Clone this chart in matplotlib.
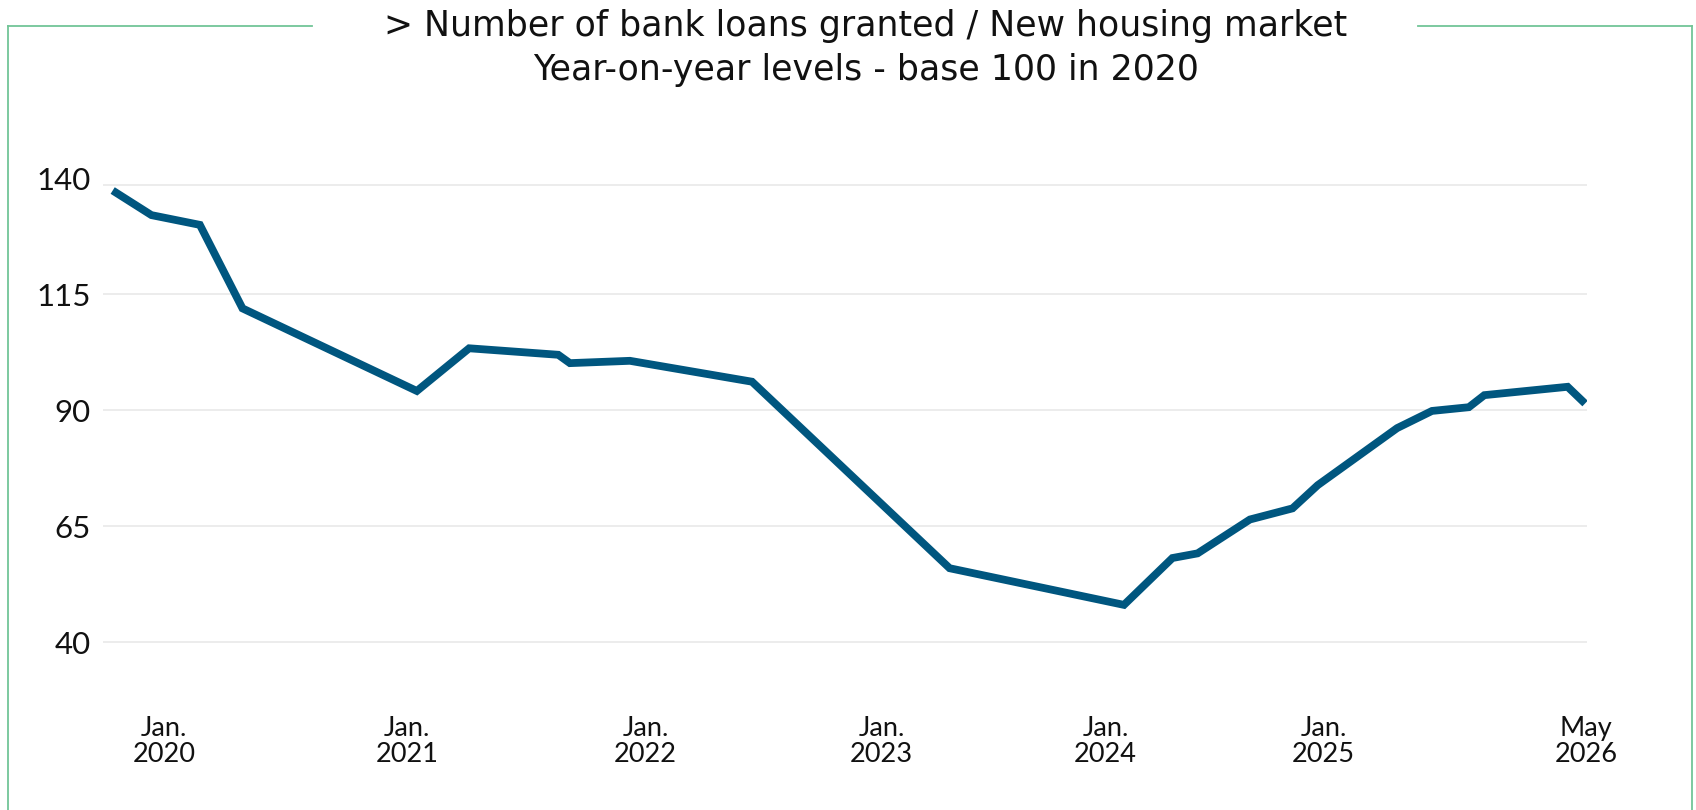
import matplotlib
matplotlib.use("Agg")
import matplotlib.pyplot as plt
from matplotlib.lines import Line2D

plt.rcParams['font.family'] = ['Lato', 'DejaVu Sans']

# Series: months since Jan. 2020, index base 100 in 2020
months = [0, 2.0, 4.5, 6.7, 15.7, 18.4, 23.0, 23.6, 26.7, 33.0, 43.2, 52.2,
          54.7, 56.0, 58.7, 60.9, 62.2, 66.3, 68.1, 70.0, 70.8, 75.1, 76]
index_vals = [137.3, 132.0, 129.9, 111.9, 94.1, 103.3, 101.9, 100.1, 100.6, 96.1,
              55.9, 48.0, 58.1, 59.1, 66.4, 68.8, 73.8, 86.1, 89.8, 90.6, 93.2,
              95.0, 91.4]

tick_months = [2.65, 15.2, 27.5, 39.7, 51.25, 62.5, 76.05]
tick_labels = ["Jan.\n2020", "Jan.\n2021", "Jan.\n2022", "Jan.\n2023",
               "Jan.\n2024", "Jan.\n2025", "May\n2026"]
y_ticks = [40, 65, 90, 115, 140]
top_rule = 138.4

title_1 = "> Number of bank loans granted / New housing market"
title_2 = "Year-on-year levels - base 100 in 2020"

W, H = 1696, 810
fig = plt.figure(figsize=(W / 100, H / 100), dpi=100)

# axes placed in pixel terms
left, right, top, bottom = 103, 1587, 178, 688.4
ax = fig.add_axes([left / W, 1 - bottom / H, (right - left) / W, (bottom - top) / H])

line_col = '#00567f'
grid_col = '#ebebeb'
ax.plot(months, index_vals, color=line_col, lw=5.6, solid_joinstyle='miter',
        solid_capstyle='butt', zorder=3)

for y in y_ticks[:-1] + [top_rule]:
    ax.axhline(y, color=grid_col, lw=1.3, zorder=1)

ax.set_xlim(-0.5, 76.1)
ax.set_ylim(30, 140)
ax.set_yticks(y_ticks)
ax.set_yticklabels([str(v) for v in y_ticks], fontsize=22.5, color='#111111')
ax.set_xticks(tick_months)
ax.set_xticklabels(tick_labels, fontsize=19.5, color='#111111', linespacing=1.05)
ax.tick_params(axis='y', length=0, pad=9)
ax.tick_params(axis='x', length=0, pad=20)
for s in ax.spines.values():
    s.set_visible(False)

title_font = ['DejaVu Sans']
fig.text(866 / W, 1 - 26 / H, title_1, ha='center', va='center', fontsize=25,
         color='#111111', family=title_font)
fig.text(866 / W, 1 - 70 / H, title_2, ha='center', va='center', fontsize=25,
         color='#111111', family=title_font)

# thin green frame, open behind the title
frame_col = '#72c597'
fy = 1 - 25.6 / H
fl, fr = 8 / W, 1692 / W
for seg in [([fl, 312 / W], [fy, fy]), ([1418 / W, fr], [fy, fy]),
            ([fl, fl], [fy, 0]), ([fr, fr], [fy, 0])]:
    fig.add_artist(Line2D(seg[0], seg[1], color=frame_col, lw=1.3, transform=fig.transFigure))

fig.savefig('out.png', dpi=100)
